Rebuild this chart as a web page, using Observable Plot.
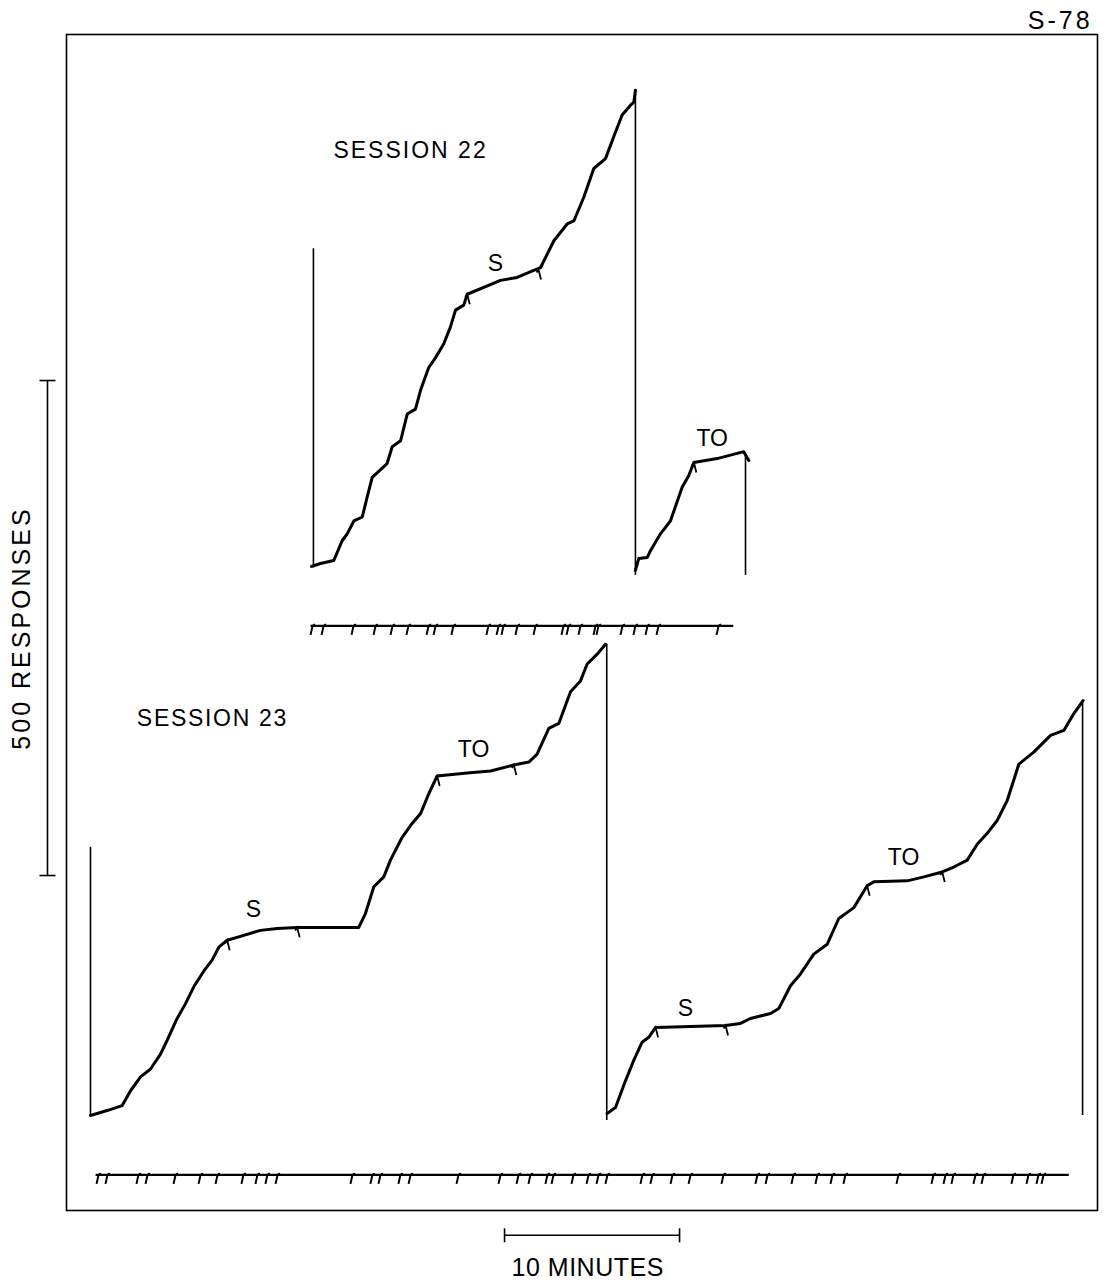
<!DOCTYPE html>
<html>
<head>
<meta charset="utf-8">
<script src="https://cdn.jsdelivr.net/npm/d3@7"></script>
<script src="https://cdn.jsdelivr.net/npm/@observablehq/plot@0.6"></script>
<style>
html,body{margin:0;padding:0;background:#fff;overflow:hidden}
svg{display:block}
</style>
</head>
<body>
<div id="chart"></div>
<script>
// ---- Cumulative records: time in minutes from session start, cumulative responses since pen reset ----
// Session 22, first excursion
const rec22a_t = [0, 0.51, 1.27, 1.75, 2.04, 2.42, 2.9, 3.18, 3.47, 4.32, 4.61, 5.09, 5.47, 5.94, 6.23, 6.7, 7.09, 7.56, 7.94, 8.23, 8.7, 8.9, 10.8, 11.75, 12.7, 13.09, 13.85, 14.61, 14.99, 15.56, 16.13, 16.8, 17.27, 17.75, 18.23, 18.42, 18.51];
const rec22a_r = [0, 3, 6, 26, 33, 46, 50, 70, 90, 104, 121, 127, 154, 159, 178, 201, 211, 225, 242, 259, 264, 275, 289, 292, 299, 302, 329, 346, 349, 373, 402, 412, 434, 456, 466, 469, 481];
// Session 22, after reset
const rec22b_t = [18.51, 18.7, 19.18, 19.37, 19.94, 20.51, 21.18, 21.56, 21.85, 23.18, 24.7, 24.99];
const rec22b_r = [-4, 8, 9, 16, 33, 46, 80, 92, 105, 109, 116, 107];
// Session 23, first excursion
const rec23a_t = [0, 0.95, 1.81, 2.29, 2.86, 3.43, 4.0, 4.38, 4.95, 5.43, 5.9, 6.48, 6.95, 7.33, 7.81, 8.76, 9.71, 10.67, 11.81, 15.33, 15.71, 16.19, 16.76, 17.14, 17.81, 18.38, 18.86, 19.33, 19.81, 21.52, 22.86, 24.19, 25.05, 25.52, 26.19, 26.76, 27.43, 28.0, 28.38, 28.95, 29.43];
const rec23a_r = [0, 5, 10, 25, 39, 47, 62, 76, 98, 113, 130, 146, 157, 170, 177, 182, 187, 189, 190, 190, 204, 231, 241, 258, 281, 295, 305, 325, 343, 346, 348, 354, 357, 365, 391, 396, 428, 439, 456, 466, 476];
// Session 23, after reset
const rec23b_t = [29.52, 30.0, 30.57, 31.05, 31.52, 31.9, 32.29, 36.29, 37.14, 37.71, 38.86, 39.33, 40.0, 40.57, 41.33, 42.1, 42.76, 43.62, 44.38, 44.76, 46.67, 47.62, 48.67, 49.33, 50.1, 50.67, 51.24, 51.81, 52.38, 53.05, 53.9, 54.86, 55.62, 56.19, 56.72];
const rec23b_r = [2, 8, 35, 56, 74, 79, 89, 91, 93, 98, 103, 108, 131, 143, 163, 173, 199, 210, 232, 236, 237, 241, 246, 251, 258, 274, 285, 298, 318, 355, 367, 384, 389, 406, 419];

// Pen lines (vertical strokes): session, time, from, to (responses)
const pen_session = [22, 22, 22, 23, 23, 23];
const pen_t  = [0.11, 18.51, 24.8, 0, 29.5, 56.69];
const pen_r1 = [-1, 481, 112, 0, 476, 419];
const pen_r2 = [321, -9, -9, 271, -5, 0];

// Event marks on the records (start/end of S and TO periods)
const mark_session = [22, 22, 22, 23, 23, 23, 23, 23, 23, 23, 23];
const mark_t = [8.9, 12.97, 21.85, 7.81, 11.81, 19.81, 24.19, 32.29, 36.29, 44.38, 48.67];
const mark_r = [275, 300, 105, 177, 190, 343, 354, 89, 91, 232, 246];

// Period labels
const label_session = [22, 22, 23, 23, 23, 23];
const label_text = ["S", "TO", "S", "TO", "S", "TO"];
const label_t = [10.51, 22.9, 9.31, 21.89, 34.0, 46.46];
const label_r = [306, 129, 208, 370, 108, 260];

// Event pen (lower line) ticks, minutes from session start
const event22_t = [0.06, 0.69, 2.4, 3.66, 4.63, 5.54, 6.69, 7.09, 8.11, 10.11, 10.69, 10.97, 11.77, 12.8, 14.4, 14.69, 15.37, 16.23, 16.4, 17.77, 18.51, 19.2, 19.83, 23.26];
const event22_span = [-0.06, 24.1];
const event23_t = [0.46, 0.97, 2.74, 3.26, 4.86, 6.29, 7.26, 8.74, 9.54, 10.11, 10.69, 14.97, 16.11, 16.57, 17.71, 18.29, 21.03, 23.43, 24.46, 25.14, 26.11, 26.46, 27.6, 28.46, 29.03, 29.54, 31.54, 32.11, 33.26, 34.29, 36.17, 38.11, 38.69, 40.17, 41.54, 42.4, 43.14, 46.17, 48.17, 48.86, 49.31, 50.57, 51.03, 52.74, 53.6, 54.17, 54.46];
const event23_span = [0.29, 55.9];

const sessions = ["SESSION 22", "SESSION 23"];
const scaleResponses = 500;
const scaleMinutes = 10;

// ---- layout (placement of each session's record on the sheet) ----
const PX_PER_MIN = 17.5, PX_PER_RESP = 0.99;
const W = 1108, H = 1283;
const ORIGIN23 = {x: 90, y: 1115};
const offset = {
  23: {t: 0, r: 0},
  22: {t: (311 - 90) / PX_PER_MIN, r: (1115 - 566) / PX_PER_RESP}
};
const EVENT_R = -60; // event pen baseline relative to record baseline

function seg(session, ts, rs) {
  return ts.map((t, i) => ({x: t + offset[session].t, y: rs[i] + offset[session].r}));
}
const records = [
  seg(22, rec22a_t, rec22a_r), seg(22, rec22b_t, rec22b_r),
  seg(23, rec23a_t, rec23a_r), seg(23, rec23b_t, rec23b_r)
];
const pens = pen_t.map((t, i) => ({
  x: t + offset[pen_session[i]].t,
  y1: pen_r1[i] + offset[pen_session[i]].r,
  y2: pen_r2[i] + offset[pen_session[i]].r
}));
const marks = mark_t.map((t, i) => ({x: t + offset[mark_session[i]].t, y: mark_r[i] + offset[mark_session[i]].r}));
const labels = label_t.map((t, i) => ({x: t + offset[label_session[i]].t, y: label_r[i] + offset[label_session[i]].r, text: label_text[i]}));
const eventLines = [
  {x1: event22_span[0] + offset[22].t, x2: event22_span[1] + offset[22].t, y: EVENT_R + offset[22].r},
  {x1: event23_span[0] + offset[23].t, x2: event23_span[1] + offset[23].t, y: EVENT_R + offset[23].r}
];
const eventTicks = [
  ...event22_t.map(t => ({x: t + offset[22].t, y: EVENT_R + offset[22].r})),
  ...event23_t.map(t => ({x: t + offset[23].t, y: EVENT_R + offset[23].r}))
];
const sessionLabels = [
  {x: 5.66 + offset[22].t, y: 420 + offset[22].r, text: sessions[0]},
  {x: 6.97 + offset[23].t, y: 401 + offset[23].r, text: sessions[1]}
];

// scale bars (in session-23 units)
const barT = -2.457, barR0 = 242.4;
const minT0 = 23.66, minR = -121;

const hook = {draw(ctx) { ctx.moveTo(-2, 3); ctx.lineTo(0, 0); ctx.lineTo(2.5, 10); }};
const evTick = {draw(ctx) { ctx.moveTo(2.5, -1.5); ctx.lineTo(0, 0); ctx.lineTo(-2, 9); }};
const capH = {draw(ctx) { ctx.moveTo(-8, 0); ctx.lineTo(8, 0); }};
const capV = {draw(ctx) { ctx.moveTo(0, -7); ctx.lineTo(0, 7); }};

const font = "'Liberation Sans', Arial, sans-serif";

const chart = Plot.plot({
  width: W, height: H,
  marginLeft: 66, marginTop: 34, marginRight: W - 1097, marginBottom: H - 1210,
  x: {domain: [-ORIGIN23.x / PX_PER_MIN, (W - ORIGIN23.x) / PX_PER_MIN], range: [0, W], axis: null},
  y: {domain: [-(H - ORIGIN23.y) / PX_PER_RESP, ORIGIN23.y / PX_PER_RESP], range: [H, 0], axis: null},
  style: {fontFamily: font, background: "#fff", color: "#000"},
  marks: [
    Plot.frame({stroke: "#000", strokeWidth: 1.6}),
    // pen strokes
    Plot.ruleX(pens, {x: "x", y1: "y1", y2: "y2", stroke: "#000", strokeWidth: 1.6}),
    // cumulative records
    ...records.map(d => Plot.line(d, {x: "x", y: "y", stroke: "#000", strokeWidth: 3, strokeLinejoin: "round", strokeLinecap: "round"})),
    Plot.dot(marks, {x: "x", y: "y", symbol: hook, r: 3, fill: "none", stroke: "#000", strokeWidth: 1.8}),
    // event pen lines
    Plot.link(eventLines, {x1: "x1", x2: "x2", y1: "y", y2: "y", stroke: "#000", strokeWidth: 2.2}),
    Plot.dot(eventTicks, {x: "x", y: "y", symbol: evTick, r: 3, fill: "none", stroke: "#000", strokeWidth: 2}),
    // labels
    Plot.text(labels, {x: "x", y: "y", text: "text", fontSize: 23, fill: "#000"}),
    Plot.text(sessionLabels, {x: "x", y: "y", text: "text", fontSize: 23, fill: "#000"}),
    // response scale bar
    Plot.ruleX([barT], {x: d => d, y1: barR0, y2: barR0 + scaleResponses, stroke: "#000", strokeWidth: 1.6}),
    Plot.dot([barR0, barR0 + scaleResponses], {x: barT, y: d => d, symbol: capH, r: 3, fill: "none", stroke: "#000", strokeWidth: 1.6}),
    Plot.text([`${scaleResponses} RESPONSES`], {x: -3.886, y: barR0 + scaleResponses / 2, text: d => d, rotate: -90, fontSize: 25, fill: "#000"}),
    // time scale bar
    Plot.link([scaleMinutes], {x1: minT0, x2: d => minT0 + d, y1: minR, y2: minR, stroke: "#000", strokeWidth: 1.6}),
    Plot.dot([minT0, minT0 + scaleMinutes], {x: d => d, y: minR, symbol: capV, r: 3, fill: "none", stroke: "#000", strokeWidth: 1.6}),
    Plot.text([`${scaleMinutes} MINUTES`], {x: minT0 + scaleMinutes / 2 - 0.25, y: -154.5, text: d => d, fontSize: 25, fill: "#000"}),
    // sheet code
    Plot.text(["S-78"], {x: 57.26, y: 1106, text: d => d, textAnchor: "end", fontSize: 25, fill: "#000"})
  ]
});
// lettering spacing to match the hand-lettered labels
const spacing = {"SESSION 22": "2px", "SESSION 23": "1.7px", "500 RESPONSES": "3px", "S-78": "3px", "10 MINUTES": "0.5px"};
d3.select(chart).selectAll("text").each(function() {
  const s = spacing[this.textContent];
  if (s) this.setAttribute("letter-spacing", s);
});
document.getElementById("chart").appendChild(chart);
</script>
</body>
</html>
